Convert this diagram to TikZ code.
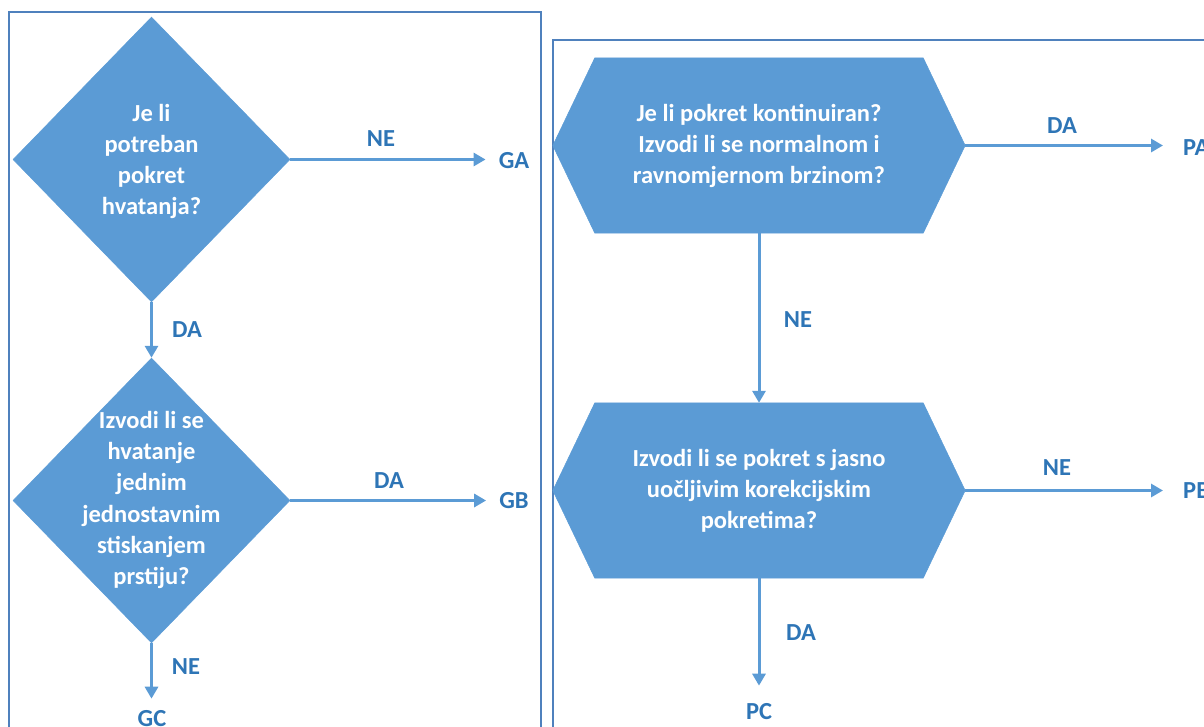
\documentclass[tikz,border=0pt]{standalone}
\usepackage{fontspec}
\setmainfont{Carlito}
\usetikzlibrary{shapes.geometric,arrows.meta}
\definecolor{fillc}{RGB}{91,155,213}
\definecolor{labc}{RGB}{46,117,182}
\definecolor{framec}{RGB}{79,129,189}
\tikzset{
  frame/.style={draw=framec,line width=1.4pt},
  dia/.style={diamond,fill=fillc,draw=fillc,line width=0.5pt,inner sep=0pt,minimum width=277pt,minimum height=285pt},
  hexbox/.style={rectangle,inner sep=0pt,minimum width=412pt,minimum height=175pt},
  hexfill/.style={fill=fillc,draw=fillc,line width=0.5pt},
  ntext/.style={text=white,align=center,font={\fontsize{24.5}{31.2}\selectfont\bfseries}},
  lab/.style={text=labc,inner sep=0pt,font={\fontsize{24.5}{28}\selectfont\bfseries}},
  arr/.style={draw=fillc,line width=3pt,-{Triangle[length=12pt,width=13pt]}}
}
\begin{document}
\begin{tikzpicture}[x=1pt,y=-1pt]
\useasboundingbox (0,0) rectangle (1204,726);
\clip (0,0) rectangle (1204,726);
% frames
\draw[frame] (9,12) rectangle (541,760);
\draw[frame] (553,40) rectangle (1240,760);
% left diagram
\node[dia] (d1) at (151.5,159.5) {};
\node[ntext] at (151.5,161.5) {Je li\\potreban\\pokret\\hvatanja?};
\node[dia] (d2) at (151.5,500.5) {};
\node[ntext] at (151.5,500) {Izvodi li se\\hvatanje\\jednim\\jednostavnim\\stiskanjem\\prstiju?};
\node[lab] (GA) at (514,161) {GA};
\node[lab] (GB) at (514,501) {GB};
\node[lab] (GC) at (152,719) {GC};
\draw[arr,shorten >=13pt] (d1.east) -- (d1.east -| GA.west);
\draw[arr] (d1.south) -- (d2.north);
\draw[arr,shorten >=13pt] (d2.east) -- (d2.east -| GB.west);
\draw[arr,shorten >=12pt] (d2.south) -- (d2.south |- GC.north);
\node[lab] (l1) at (381,139) {NE};
\node[lab] (l2) at (187,330) {DA};
\node[lab] (l3) at (389,481) {DA};
\node[lab] (l4) at (186,667) {NE};
% right diagram
\node[hexbox] (h1) at (759,145.5) {};
\path[hexfill] (h1.west) -- ([xshift=42pt]h1.north west) -- ([xshift=-42pt]h1.north east) -- (h1.east) -- ([xshift=-42pt]h1.south east) -- ([xshift=42pt]h1.south west) -- cycle;
\node[ntext] at (759,146) {Je li pokret kontinuiran?\\Izvodi li se normalnom i\\ravnomjernom brzinom?};
\node[hexbox] (h2) at (759,490.5) {};
\path[hexfill] (h2.west) -- ([xshift=42pt]h2.north west) -- ([xshift=-42pt]h2.north east) -- (h2.east) -- ([xshift=-42pt]h2.south east) -- ([xshift=42pt]h2.south west) -- cycle;
\node[ntext] at (759,491) {Izvodi li se pokret s jasno\\uočljivim korekcijskim\\pokretima?};
\node[lab,anchor=west] (PA) at (1183,148) {PA};
\node[lab,anchor=west] (PB) at (1183,491) {PB};
\node[lab] (PC) at (759,712) {PC};
\draw[arr,shorten >=20pt] (h1.east) -- (h1.east -| PA.west);
\draw[arr] (h1.south) -- (h2.north);
\draw[arr,shorten >=20pt] (h2.east) -- (h2.east -| PB.west);
\draw[arr,shorten >=18pt] (h2.south) -- (h2.south |- PC.north);
\node[lab] (l5) at (1062,126) {DA};
\node[lab] (l6) at (798,320) {NE};
\node[lab] (l7) at (1057,468) {NE};
\node[lab] (l8) at (801,633) {DA};
\end{tikzpicture}
\end{document}
